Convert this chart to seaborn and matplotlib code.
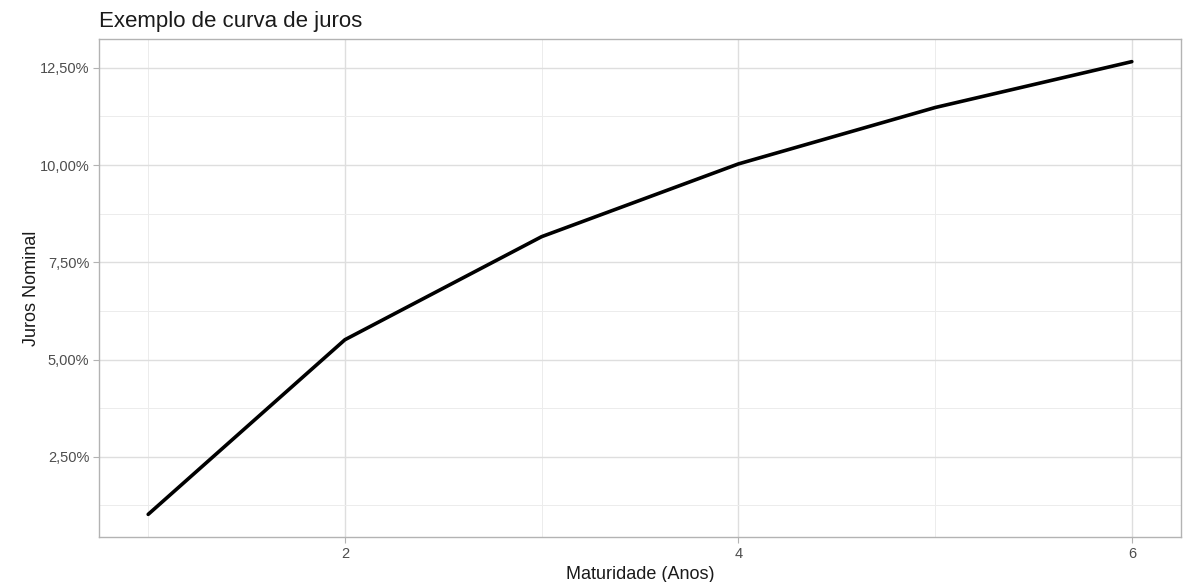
import matplotlib
matplotlib.use("Agg")
import matplotlib.pyplot as plt
import seaborn as sns
import pandas as pd
from matplotlib.ticker import FixedLocator, FuncFormatter

maturidade = [1, 2, 3, 4, 5, 6]
juros = [1.02, 5.51, 8.16, 10.03, 11.48, 12.66]
y_ticks = [2.5, 5.0, 7.5, 10.0, 12.5]
x_ticks = [2, 4, 6]

sns.set_theme(style="white")
plt.rcParams['font.family'] = ['Liberation Sans', 'DejaVu Sans']

df = pd.DataFrame({"Maturidade": maturidade, "Juros": juros})

fig = plt.figure(figsize=(11.84, 5.82), dpi=100)
ax = fig.add_axes([99/1184, 1 - 537/582, (1181-99)/1184, (537-39)/582])

sns.lineplot(data=df, x="Maturidade", y="Juros", ax=ax, color="black", linewidth=2.6)

xr = max(maturidade) - min(maturidade)
yr = max(juros) - min(juros)
ax.set_xlim(min(maturidade) - 0.05*xr, max(maturidade) + 0.05*xr)
ax.set_ylim(min(juros) - 0.05*yr, max(juros) + 0.05*yr)

ax.xaxis.set_major_locator(FixedLocator(x_ticks))
ax.xaxis.set_minor_locator(FixedLocator([1, 3, 5]))
ax.yaxis.set_major_locator(FixedLocator(y_ticks))
ax.yaxis.set_minor_locator(FixedLocator([1.25, 3.75, 6.25, 8.75, 11.25]))
ax.yaxis.set_major_formatter(FuncFormatter(lambda v, p: f"{v:.2f}%".replace(".", ",")))

ax.grid(True, which="major", color="#DEDEDE", linewidth=1.0)
ax.grid(True, which="minor", color="#ECECEC", linewidth=0.7)
ax.set_axisbelow(True)

for s in ax.spines.values():
    s.set_color("#B3B3B3")
    s.set_linewidth(1.0)

ax.tick_params(axis="both", which="major", length=4, width=0.8, color="#B3B3B3",
               labelsize=10.5, labelcolor="#4D4D4D", pad=3, bottom=True, left=True)
ax.tick_params(axis="both", which="minor", length=0)

ax.set_xlabel("Maturidade (Anos)", fontsize=13, color="#1A1A1A", labelpad=4)
ax.set_ylabel("Juros Nominal", fontsize=13, color="#1A1A1A", labelpad=0)
ax.set_title("Exemplo de curva de juros", fontsize=16, color="#1A1A1A", loc="left", pad=9)

fig.savefig("out.png", dpi=100)
